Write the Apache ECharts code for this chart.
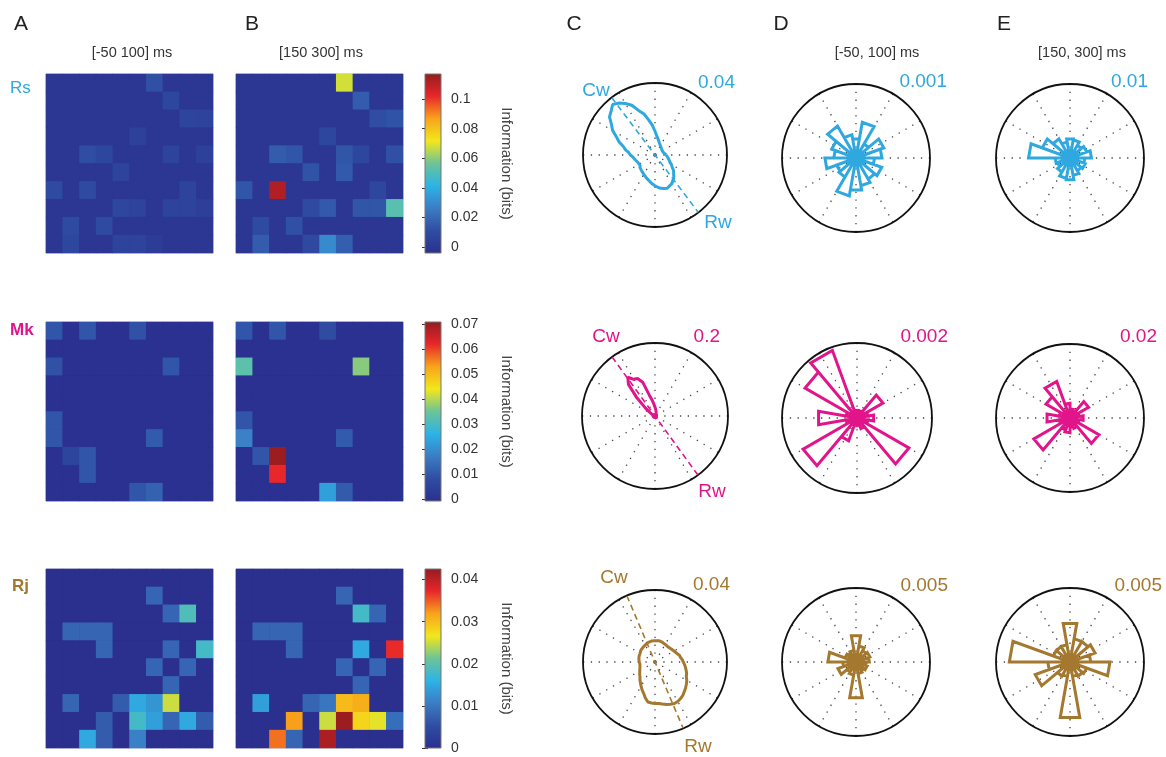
<!DOCTYPE html>
<html><head><meta charset="utf-8">
<script src="https://cdn.jsdelivr.net/npm/echarts@6/dist/echarts.min.js"></script>
<style>html,body{margin:0;padding:0;background:#fff}#c{width:1166px;height:757px}</style>
</head><body><div id="c"></div>
<script>
// ---------------- DATA ----------------
const monkeys = ['Rs', 'Mk', 'Rj'];
const panelLetters = ['A', 'B', 'C', 'D', 'E'];
const heatTitles = ['[-50 100] ms', '[150 300] ms'];
const roseTitles = ['[-50, 100] ms', '[150, 300] ms'];
const cbName = 'Information (bits)';

// 10x10 information maps (rows top->bottom, cols left->right)
const rsEarly = [
 [0,0,0,0,0,0,0.012,0,0,0],
 [0,0,0,0,0,0,0,0.008,0,0],
 [0,0,0,0,0,0,0,0,0.007,0.006],
 [0,0,0,0,0,0.005,0,0,0,0],
 [0,0,0.011,0.008,0,0,0,0.006,0,0.005],
 [0,0,0,0,0.006,0,0,0,0,0],
 [0.01,0,0.01,0,0,0,0,0,0.006,0],
 [0,0,0,0,0.008,0.006,0,0.006,0.006,0.004],
 [0,0.01,0,0.01,0,0,0,0,0,0],
 [0,0.008,0,0,0.006,0.006,0.003,0,0,0]];
const rsLate = [
 [0,0,0,0,0,0,0.068,0,0,0],
 [0,0,0,0,0,0,0,0.016,0,0],
 [0,0,0,0,0,0,0,0,0.011,0.013],
 [0,0,0,0,0,0.008,0,0,0,0],
 [0,0,0.016,0.014,0,0,0.014,0.008,0,0.012],
 [0,0,0,0,0.013,0,0.015,0,0,0],
 [0.014,0,0.112,0,0,0,0,0,0.008,0],
 [0,0,0,0,0.01,0.015,0,0.014,0.014,0.052],
 [0,0.01,0,0.012,0,0,0,0,0,0],
 [0,0.016,0,0,0.009,0.03,0.017,0,0,0]];
const mkEarly = [
 [0.01,0,0.01,0,0,0.009,0,0,0,0],
 [0,0,0,0,0,0,0,0,0,0],
 [0.009,0,0,0,0,0,0,0.01,0,0],
 [0,0,0,0,0,0,0,0,0,0],
 [0,0,0,0,0,0,0,0,0,0],
 [0.01,0,0,0,0,0,0,0,0,0],
 [0.01,0,0,0,0,0,0.011,0,0,0],
 [0,0.006,0.01,0,0,0,0,0,0,0],
 [0,0,0.01,0,0,0,0,0,0,0],
 [0,0,0,0,0,0.01,0.012,0,0,0]];
const mkLate = [
 [0.01,0,0.01,0,0,0.008,0,0,0,0],
 [0,0,0,0,0,0,0,0,0,0],
 [0.033,0,0,0,0,0,0,0.037,0,0],
 [0,0,0,0,0,0,0,0,0,0],
 [0,0,0,0,0,0,0,0,0,0],
 [0.01,0,0,0,0,0,0,0,0,0],
 [0.018,0,0,0,0,0,0.011,0,0,0],
 [0,0.01,0.07,0,0,0,0,0,0,0],
 [0,0,0.062,0,0,0,0,0,0,0],
 [0,0,0,0,0,0.023,0.011,0,0,0]];
const rjEarly = [
 [0,0,0,0,0,0,0,0,0,0],
 [0,0,0,0,0,0,0.008,0,0,0],
 [0,0,0,0,0,0,0,0.008,0.019,0],
 [0,0.008,0.008,0.008,0,0,0,0,0,0],
 [0,0,0,0.008,0,0,0,0.008,0,0.018],
 [0,0,0,0,0,0,0.008,0,0.008,0],
 [0,0,0,0,0,0,0,0.008,0,0],
 [0,0.008,0,0,0.007,0.015,0.013,0.025,0,0],
 [0,0,0,0.007,0,0.018,0.014,0.008,0.015,0.007],
 [0,0,0.015,0.007,0,0.011,0,0,0,0]];
const rjLate = [
 [0,0,0,0,0,0,0,0,0,0],
 [0,0,0,0,0,0,0.008,0,0,0],
 [0,0,0,0,0,0,0,0.018,0.008,0],
 [0,0.008,0.008,0.008,0,0,0,0,0,0],
 [0,0,0,0.008,0,0,0,0.015,0,0.037],
 [0,0,0,0,0,0,0.008,0,0.008,0],
 [0,0,0,0,0,0,0,0.008,0,0],
 [0,0.014,0,0,0.008,0.01,0.03,0.031,0,0],
 [0,0,0,0.032,0,0.025,0.042,0.028,0.026,0.009],
 [0,0,0.034,0.008,0,0.041,0,0,0,0]];

// colour bar ranges and tick labels
const rsCbRange = [-0.004, 0.117];
const mkCbRange = [-0.0007, 0.071];
const rjCbRange = [0, 0.0425];
const rsCbTicks = [0, 0.02, 0.04, 0.06, 0.08, 0.1];
const mkCbTicks = [0, 0.01, 0.02, 0.03, 0.04, 0.05, 0.06, 0.07];
const rjCbTicks = [0, 0.01, 0.02, 0.03, 0.04];

// polar outer-circle values (C, D, E)
const rsPolarMax = [0.04, 0.001, 0.01];
const mkPolarMax = [0.2, 0.002, 0.02];
const rjPolarMax = [0.04, 0.005, 0.005];

// C: information vs. whisker direction, 5 deg steps from 0 deg (east), counter-clockwise
const rsTuning = [0.0062,0.0058,0.0054,0.0049,0.0047,0.0045,0.0043,0.0047,0.0045,0.0051,
 0.0053,0.0058,0.0060,0.0068,0.0071,0.0081,0.0090,0.0108,0.0132,0.0165,
 0.0197,0.0236,0.0262,0.0305,0.0330,0.0352,0.0366,0.0345,0.0330,0.0295,
 0.0272,0.0236,0.0212,0.0182,0.0166,0.0146,0.0137,0.0124,0.0120,0.0111,
 0.0111,0.0103,0.0107,0.0101,0.0109,0.0109,0.0115,0.0116,0.0124,0.0128,
 0.0137,0.0143,0.0152,0.0162,0.0171,0.0180,0.0188,0.0193,0.0197,0.0190,
 0.0186,0.0173,0.0163,0.0146,0.0135,0.0116,0.0105,0.0092,0.0086,0.0077,
 0.0071,0.0066];
const mkTuning = [0.0046,0.0046,0.0037,0.0046,0.0046,0.0037,0.0046,0.0046,0.0055,0.0046,
 0.0055,0.0055,0.0064,0.0073,0.0091,0.0119,0.0146,0.0192,0.0228,0.0320,
 0.0438,0.0584,0.0986,0.1132,0.1160,0.1297,0.1132,0.0694,0.0347,0.0164,
 0.0091,0.0064,0.0055,0.0046,0.0046,0.0037,0.0046,0.0046,0.0037,0.0046,
 0.0046,0.0037,0.0046,0.0046,0.0037,0.0046,0.0046,0.0055,0.0046,0.0046,
 0.0055,0.0046,0.0046,0.0037,0.0046,0.0046,0.0055,0.0046,0.0046,0.0055,
 0.0064,0.0055,0.0046,0.0046,0.0037,0.0046,0.0046,0.0037,0.0046,0.0046,
 0.0037,0.0046];
const rjTuning = [0.0157,0.0152,0.0144,0.0141,0.0133,0.0126,0.0122,0.0117,0.0115,0.0113,
 0.0111,0.0115,0.0113,0.0117,0.0117,0.0118,0.0120,0.0117,0.0118,0.0120,
 0.0118,0.0117,0.0115,0.0111,0.0109,0.0107,0.0105,0.0104,0.0102,0.0098,
 0.0096,0.0096,0.0094,0.0091,0.0091,0.0089,0.0087,0.0085,0.0085,0.0087,
 0.0089,0.0093,0.0098,0.0104,0.0111,0.0118,0.0130,0.0141,0.0155,0.0170,
 0.0185,0.0207,0.0226,0.0229,0.0231,0.0231,0.0237,0.0244,0.0250,0.0255,
 0.0253,0.0248,0.0241,0.0231,0.0222,0.0213,0.0204,0.0192,0.0187,0.0179,
 0.0172,0.0165];
// Cw direction (deg) for the dashed Cw-Rw axis
const cwAngles = [127, 126, 113];

// D/E: rose histograms, 18 bins of 20 deg; first bin centre (deg)
const rsRoseEarly = [0.00035,0.00040,0.00022,0.00049,0.00026,0.00032,0.00050,0.00035,0.00030,0.00042,0.00028,0.00030,0.00052,0.00044,0.00038,0.00033,0.00037,0.00025];
const rsRoseLate  = [0.0029,0.0024,0.0020,0.0025,0.0026,0.0022,0.0030,0.0040,0.0056,0.0020,0.0018,0.0022,0.0028,0.0030,0.0024,0.0020,0.0022,0.0020];
const mkRoseEarly = [0.00045,0.0003,0.0008,0.0002,0.0002,0.0002,0.00192,0.0016,0.0003,0.00104,0.0003,0.00166,0.00065,0.0002,0.0002,0.0003,0.0016,0.0003];
const mkRoseLate  = [0.0036,0.0025,0.0058,0.002,0.0025,0.004,0.0105,0.0075,0.003,0.0063,0.003,0.0113,0.0035,0.004,0.0025,0.003,0.009,0.0025];
const rjRoseEarly = [0.0009,0.001,0.0009,0.0011,0.0018,0.0008,0.0007,0.0008,0.0019,0.0009,0.0013,0.0008,0.0009,0.00246,0.0008,0.0007,0.0008,0.0007];
const rjRoseLate  = [0.0014,0.0018,0.0016,0.0016,0.00265,0.0012,0.0012,0.0012,0.0041,0.0015,0.0025,0.0011,0.0010,0.0038,0.0010,0.0011,0.0012,0.0027];
const rsRoseStart = [10, 10];
const mkRoseStart = [0, 0];
const rjRoseStart = [10, 10];

// ---------------- STYLE / LAYOUT ----------------
const FONT = '"Liberation Sans", Arial, sans-serif';
const jetColors = ['#2b2f8e','#2f4da2','#3b7cc4','#2cb3e6','#6cc497','#f2e71c','#f8a31b','#e7262a','#931c1f'];
const rowColors = ['#2fa8df', '#e2148a', '#a4782f'];
const rowTops = [74, 322, 569];
const heatLefts = [46, 236];
const polarCenters = [[[655,155],[856,158],[1070,158]], [[655,416],[857,418],[1070,418]], [[655,662],[856,662],[1070,662]]];
const polarRadii = [[72,74,74],[73,75,74],[72,74,74]];

const heatData = [[rsEarly, rsLate], [mkEarly, mkLate], [rjEarly, rjLate]];
const cbRanges = [rsCbRange, mkCbRange, rjCbRange];
const cbTicks = [rsCbTicks, mkCbTicks, rjCbTicks];
const polarMax = [rsPolarMax, mkPolarMax, rjPolarMax];
const tunings = [rsTuning, mkTuning, rjTuning];
const roses = [[rsRoseEarly, rsRoseLate], [mkRoseEarly, mkRoseLate], [rjRoseEarly, rjRoseLate]];
const roseStarts = [rsRoseStart, mkRoseStart, rjRoseStart];

const norm = a => ((a % 360) + 360) % 360;
function tuningPath(vals) {
  const n = vals.length, out = vals.map((r, i) => [r, i * 360 / n]);
  out.push([vals[0], 360]);
  return out;
}
function rosePath(vals, start) {
  const w = 360 / vals.length, out = [];
  vals.forEach((r, i) => {
    const c = start + i * w;
    out.push([0, norm(c - w / 2)], [r, norm(c - w / 2)], [r, norm(c + w / 2)], [0, norm(c + w / 2)]);
  });
  return out;
}
const cbStops = jetColors.map((c, i) => ({offset: i / (jetColors.length - 1), color: c}));

const grids = [], xAxes = [], yAxes = [], series = [], visualMaps = [];
const polars = [], angleAxes = [], radiusAxes = [], graphics = [];
const cells = [...Array(10).keys()].map(String);

for (let k = 0; k < 3; k++) {
  const hs = [];
  for (let j = 0; j < 2; j++) {
    const g = grids.length;
    grids.push({left: heatLefts[j], top: rowTops[k], width: 167, height: 179, show: true, borderColor: '#b4b4c8', borderWidth: 1, backgroundColor: jetColors[0]});
    xAxes.push({gridIndex: g, type: 'category', data: cells, show: false});
    yAxes.push({gridIndex: g, type: 'category', data: cells, inverse: true, show: false});
    const data = [];
    heatData[k][j].forEach((row, r) => row.forEach((v, c) => data.push([c, r, v])));
    hs.push(series.length);
    series.push({type: 'heatmap', xAxisIndex: xAxes.length - 1, yAxisIndex: yAxes.length - 1, data,
      itemStyle: {borderWidth: 0}, emphasis: {disabled: true}, silent: true});
  }
  visualMaps.push({type: 'continuous', show: false, seriesIndex: hs, dimension: 2,
    min: cbRanges[k][0], max: cbRanges[k][1], inRange: {color: jetColors}});
  // colour bar
  const g = grids.length;
  grids.push({left: 425, top: rowTops[k], width: 16, height: 179});
  xAxes.push({gridIndex: g, type: 'value', min: 0, max: 1, show: false});
  const yi = yAxes.length;
  yAxes.push({gridIndex: g, type: 'value', min: cbRanges[k][0], max: cbRanges[k][1], position: 'right',
    axisLine: {show: false}, splitLine: {show: false},
    axisTick: {show: true, inside: true, length: 3, customValues: cbTicks[k], lineStyle: {color: '#333'}},
    axisLabel: {customValues: cbTicks[k], formatter: v => String(+v.toFixed(4)), fontSize: 14, color: '#333', margin: 10, fontFamily: FONT},
    name: cbName, nameLocation: 'middle', nameRotate: -90, nameGap: 58,
    nameTextStyle: {fontSize: 15, color: '#444', fontFamily: FONT}});
  yAxes.push({gridIndex: g, type: 'value', min: cbRanges[k][0], max: cbRanges[k][1], position: 'left',
    axisLine: {show: false}, splitLine: {show: false}, axisLabel: {show: false},
    axisTick: {show: true, inside: true, length: 3, customValues: cbTicks[k], lineStyle: {color: '#333'}}});
  series.push({type: 'custom', xAxisIndex: xAxes.length - 1, yAxisIndex: yi, silent: true, clip: false,
    data: [[cbRanges[k][0], cbRanges[k][1]]],
    renderItem: (params, api) => {
      const p0 = api.coord([0, api.value(0)]), p1 = api.coord([1, api.value(1)]);
      return {type: 'rect', shape: {x: p0[0], y: p1[1], width: p1[0] - p0[0], height: p0[1] - p1[1]},
        style: {fill: new echarts.graphic.LinearGradient(0, 1, 0, 0, cbStops), stroke: '#777', lineWidth: 1}};
    }});

  // polar panels
  for (let c = 0; c < 3; c++) {
    const p = polars.length;
    polars.push({center: polarCenters[k][c], radius: polarRadii[k][c]});
    angleAxes.push({polarIndex: p, type: 'value', min: 0, max: 360, interval: 30, startAngle: 0, clockwise: false,
      axisLine: {show: true, lineStyle: {color: '#111', width: 1.8}}, axisTick: {show: false}, axisLabel: {show: false},
      splitLine: {show: true, lineStyle: {color: '#444', width: 1.3, type: [1.3, 6.5]}}});
    radiusAxes.push({polarIndex: p, type: 'value', min: 0, max: polarMax[k][c],
      axisLine: {show: false}, axisTick: {show: false}, axisLabel: {show: false}, splitLine: {show: false}});
    if (c === 0) {
      series.push({type: 'line', coordinateSystem: 'polar', polarIndex: p, data: tuningPath(tunings[k]),
        symbol: 'none', silent: true, lineStyle: {color: rowColors[k], width: 3}});
      series.push({type: 'line', coordinateSystem: 'polar', polarIndex: p, symbol: 'none', silent: true,
        data: [[polarMax[k][0], cwAngles[k]], [polarMax[k][0], norm(cwAngles[k] + 180)]],
        lineStyle: {color: rowColors[k], width: 1.6, type: [6, 4]}});
    } else {
      series.push({type: 'line', coordinateSystem: 'polar', polarIndex: p, symbol: 'none', silent: true,
        data: rosePath(roses[k][c - 1], roseStarts[k][c - 1]),
        lineStyle: {color: rowColors[k], width: 3, join: 'miter'}});
    }
  }
}

// text
function txt(text, x, y, opt) {
  graphics.push({type: 'text', x, y, silent: true, style: Object.assign({text, fontFamily: FONT, fontSize: 14,
    fill: '#333', align: 'center', verticalAlign: 'middle'}, opt || {})});
}
const letterX = [21, 252, 574, 781, 1004];
panelLetters.forEach((l, i) => txt(l, letterX[i], 24, {fontSize: 21, fill: '#222'}));
txt(heatTitles[0], 132, 53, {fontSize: 14.5});
txt(heatTitles[1], 321, 53, {fontSize: 14.5});
txt(roseTitles[0], 877, 53, {fontSize: 14.5});
txt(roseTitles[1], 1082, 53, {fontSize: 14.5});
const rowLabelPos = [[10, 88], [10, 330], [12, 586]];
monkeys.forEach((m, k) => txt(m, rowLabelPos[k][0], rowLabelPos[k][1],
  {align: 'left', fontSize: 17, fill: rowColors[k], fontWeight: k === 0 ? 'normal' : 'bold'}));
const cwPos = [[596, 91], [606, 337], [614, 578]];
const rwPos = [[718, 223], [712, 492], [698, 747]];
const valPos = [[[735, 83], [947, 82], [1148, 82]], [[720, 337], [948, 337], [1157, 337]], [[730, 585], [948, 586], [1162, 586]]];
for (let k = 0; k < 3; k++) {
  txt('Cw', cwPos[k][0], cwPos[k][1], {fontSize: 19, fill: rowColors[k]});
  txt('Rw', rwPos[k][0], rwPos[k][1], {fontSize: 19, fill: rowColors[k]});
  for (let c = 0; c < 3; c++) {
    txt(String(polarMax[k][c]), valPos[k][c][0], valPos[k][c][1], {fontSize: 19, fill: rowColors[k], align: 'right'});
  }
}

const chart = echarts.init(document.getElementById('c'), null, {renderer: 'canvas'});
chart.setOption({
  animation: false,
  backgroundColor: '#fff',
  grid: grids, xAxis: xAxes, yAxis: yAxes,
  polar: polars, angleAxis: angleAxes, radiusAxis: radiusAxes,
  visualMap: visualMaps,
  series,
  graphic: graphics
});
</script>
</body></html>
